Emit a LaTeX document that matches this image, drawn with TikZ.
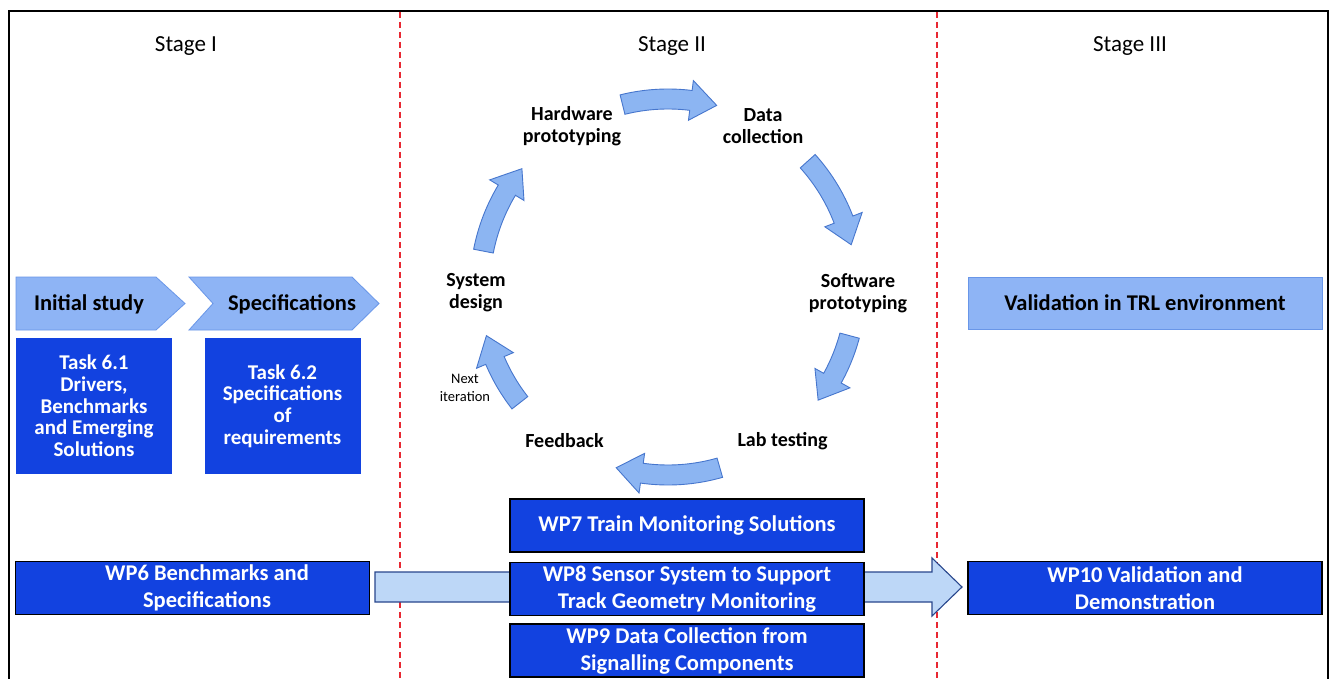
\documentclass[tikz,border=0pt]{standalone}
\usepackage{fontspec}
\setmainfont{Carlito}
\definecolor{chevfill}{RGB}{142,180,245}
\definecolor{chevdraw}{RGB}{105,150,232}
\definecolor{cycfill}{RGB}{140,181,242}
\definecolor{cycdraw}{RGB}{70,118,205}
\definecolor{darkblue}{RGB}{18,66,224}
\definecolor{lightarrow}{RGB}{189,215,247}
\definecolor{arrowdraw}{RGB}{40,70,140}
\definecolor{dashred}{RGB}{232,40,50}
\newcommand{\cycarr}[2]{%
  \pgfmathsetmacro{\ahd}{#2+8}%
  \filldraw[cycarrow] (#1:198) arc[start angle=#1, end angle=\ahd, radius=198]
    -- (\ahd:208) -- (#2:188) -- (\ahd:168) -- (\ahd:178)
    arc[start angle=\ahd, end angle=#1, radius=178] -- cycle;}
\begin{document}
\begin{tikzpicture}[x=1pt,y=-1pt,
  stagetxt/.style={font=\fontsize{23}{27}\selectfont, inner sep=0},
  chevtxt/.style={font=\bfseries\fontsize{22.5}{27}\selectfont, inner sep=0},
  tasktxt/.style={font=\bfseries\fontsize{21}{21.7}\selectfont, text=white, align=center, inner sep=0},
  cyctxt/.style={font=\bfseries\fontsize{20}{22}\selectfont, align=center, inner sep=0},
  smalltxt/.style={font=\fontsize{14.5}{18}\selectfont, align=center, inner sep=0},
  wptxt/.style={font=\bfseries\fontsize{22.5}{27}\selectfont, text=white, align=center, inner sep=0},
  chevshape/.style={fill=chevfill, draw=chevdraw, line width=0.8},
  taskbox/.style={fill=darkblue, draw=none, minimum width=156, minimum height=136, inner sep=0},
  wpbox/.style={fill=darkblue, draw=black, line width=1.8, minimum width=354, minimum height=53, inner sep=0},
  cycarrow/.style={fill=cycfill, draw=cycdraw, line width=0.9, line join=miter},
  bigarrow/.style={fill=lightarrow, draw=arrowdraw, line width=1.1},
  divider/.style={draw=dashred, line width=1.5, dash pattern=on 6pt off 4pt},
  framestyle/.style={draw=black, line width=1.6}
]
\useasboundingbox (0,0) rectangle (1329,679);
\fill[white] (0,0) rectangle (1329,679);
% frame
\draw[framestyle] (9,679) -- (9,11) -- (1328,11) -- (1328,679);
% dividers
\draw[divider] (400,12) -- (400,679);
\draw[divider] (937,12) -- (937,679);
% stage titles
\node[stagetxt] (st1) at (186,46) {Stage I};
\node[stagetxt] (st2) at (672,46) {Stage II};
\node[stagetxt] (st3) at (1130,46) {Stage III};
% chevrons
\filldraw[chevshape] (16,277) -- (156,277) -- (185,303.5) -- (156,330) -- (16,330) -- cycle;
\filldraw[chevshape] (189,277) -- (352,277) -- (379,303.5) -- (352,330) -- (189,330) -- (213,303.5) -- cycle;
\node[chevtxt] (init) at (89,304) {Initial study};
\node[chevtxt] (spec) at (292,304) {Specifications};
% validation box
\node[fill=chevfill, draw=chevdraw, line width=0.8, minimum width=354, minimum height=52, inner sep=0, font=\bfseries\fontsize{22.5}{27}\selectfont] (valid) at (1145,303) {Validation in TRL environment};
% task boxes
\node[taskbox] (t61) at (94,406) {};
\node[tasktxt] (t61t) at (94,406) {Task 6.1\\Drivers,\\Benchmarks\\and Emerging\\Solutions};
\node[taskbox] (t62) at (282.5,406) {};
\node[tasktxt] (t62t) at (282.5,406) {Task 6.2\\Specifications\\of\\requirements};
% cycle arrows
\begin{scope}[shift={(668,287)}, y=1pt]
  \cycarr{104}{75}
  \cycarr{42}{13}
  \cycarr{-15}{-37}
  \cycarr{-74}{-106}
  \cycarr{-142}{-165}
  \cycarr{169}{141}
\end{scope}
% cycle labels
\node[cyctxt] (hw) at (572,126) {Hardware\\prototyping};
\node[cyctxt] (dc) at (763,126) {Data\\collection};
\node[cyctxt] (sw) at (858,293) {Software\\prototyping};
\node[cyctxt] (lab) at (782.5,441) {Lab testing};
\node[cyctxt] (fb) at (564.5,441) {Feedback};
\node[cyctxt] (sd) at (476,293) {System\\design};
\node[smalltxt] (ni) at (465,388) {Next\\iteration};
% big arrow WP6 -> WP10
\filldraw[bigarrow] (375,572) -- (932,572) -- (932,558) -- (962,587) -- (932,616) -- (932,602) -- (375,602) -- cycle;
% WP boxes
\node[wpbox] (wp6) at (192.5,588) {};
\node[wptxt] (wp6t) at (207,588) {WP6 Benchmarks and\\Specifications};
\node[wpbox, wptxt] (wp7) at (687,525.5) {WP7 Train Monitoring Solutions};
\node[wpbox, wptxt] (wp8) at (687,589) {WP8 Sensor System to Support\\Track Geometry Monitoring};
\node[wpbox, wptxt] (wp9) at (687,650.5) {WP9 Data Collection from\\Signalling Components};
\node[wpbox, wptxt] (wp10) at (1145,588) {WP10 Validation and\\Demonstration};
\end{tikzpicture}
\end{document}
